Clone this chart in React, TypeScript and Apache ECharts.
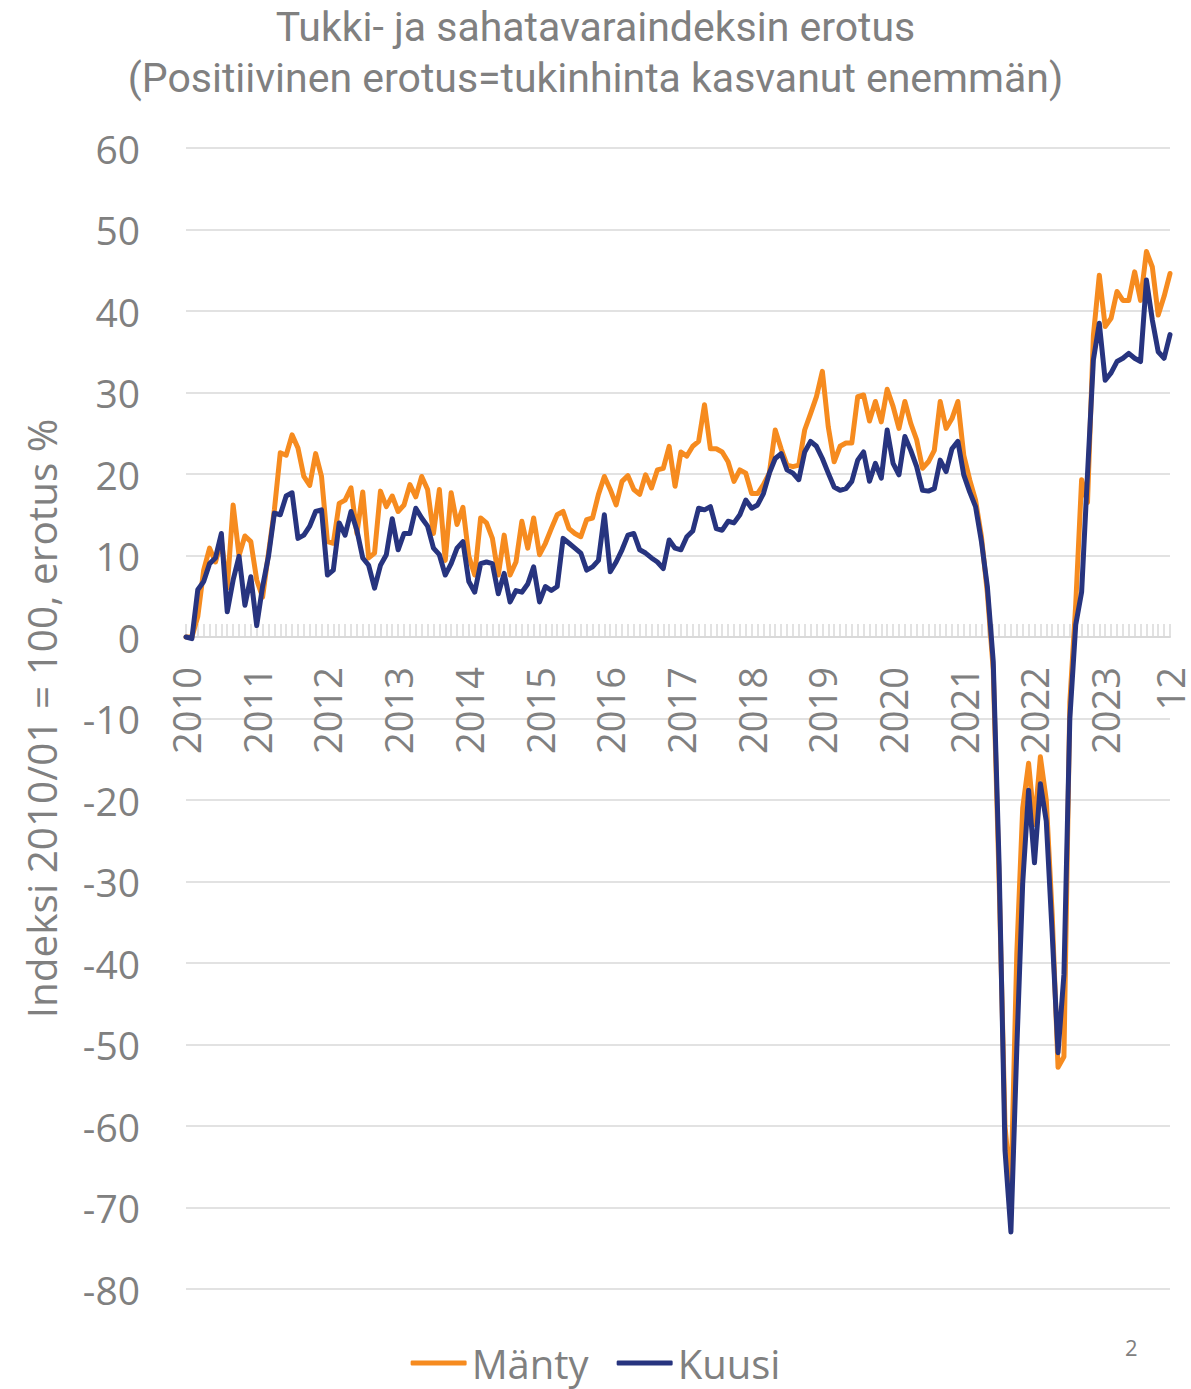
import React, { useEffect, useRef } from "react";
import * as echarts from "echarts";

const years = ["2010", "2011", "2012", "2013", "2014", "2015", "2016", "2017", "2018", "2019", "2020", "2021", "2022", "2023"];
const lastLabel = "12";

const manty = [
  0, 0, 2.5, 8.2, 10.9, 9.2, 11.9, 6, 16.2, 10.0, 12.4, 11.7,
  7, 4.9, 10.3, 15.6, 22.6, 22.3, 24.8, 23.2, 19.7, 18.6, 22.5, 19.7,
  11.7, 11.5, 16.4, 16.8, 18.3, 12.7, 17.8, 9.7, 10.3, 17.9, 16.0, 17.3,
  15.4, 16.2, 18.7, 17.2, 19.7, 18.1, 12.7, 18.1, 9.4, 17.7, 13.8, 15.9,
  9.9, 7.6, 14.6, 14.0, 12.1, 7.6, 12.5, 7.6, 9.2, 14.2, 10.9, 14.6,
  10.1, 11.5, 13.3, 15.0, 15.4, 13.3, 12.7, 12.3, 14.4, 14.6, 17.5, 19.7,
  18.1, 16.2, 19.1, 19.8, 18.1, 17.5, 19.9, 18.3, 20.5, 20.7, 23.4, 18.5,
  22.7, 22.2, 23.4, 24.0, 28.5, 23.1, 23.1, 22.7, 21.5, 19.1, 20.5, 20.1,
  17.6, 17.6, 18.7, 20.1, 25.4, 23.1, 21.1, 20.9, 21.1, 25.4, 27.4, 29.5,
  32.6, 25.8, 21.5, 23.4, 23.8, 23.8, 29.5, 29.7, 26.5, 28.9, 26.4, 30.4,
  28.3, 25.6, 28.9, 26.2, 24.2, 20.7, 21.5, 22.9, 28.9, 25.6, 26.8, 28.9,
  22.3, 19.3, 16.8, 12.3, 5.4, -4, -30, -60, -68, -38.8, -21, -15.5,
  -23, -14.7, -20, -34, -52.8, -51.5, -8, 4, 19.3, 16.5, 37, 44.4,
  38.1, 39.1, 42.4, 41.3, 41.3, 44.8, 41.3, 47.3, 45.4, 39.5, 41.8, 44.6,
];

const kuusi = [
  0, -0.2, 5.8, 6.8, 9.0, 9.7, 12.7, 3.1, 7.0, 9.9, 3.9, 7.4,
  1.4, 6.2, 9.9, 15.2, 15.0, 17.3, 17.7, 12.1, 12.5, 13.6, 15.4, 15.6,
  7.6, 8.2, 14.0, 12.5, 15.4, 13.1, 9.7, 8.8, 6.0, 8.8, 10.1, 14.5,
  10.7, 12.7, 12.7, 15.8, 14.6, 13.6, 10.9, 10.1, 7.6, 9.0, 10.9, 11.7,
  6.8, 5.5, 9.0, 9.2, 9.0, 5.3, 7.8, 4.3, 5.7, 5.5, 6.5, 8.6,
  4.3, 6.2, 5.7, 6.2, 12.1, 11.5, 10.9, 10.3, 8.2, 8.6, 9.4, 15.0,
  8.0, 9.2, 10.7, 12.5, 12.7, 10.7, 10.3, 9.7, 9.2, 8.4, 11.9, 10.9,
  10.7, 12.3, 13.0, 15.8, 15.6, 16.0, 13.3, 13.1, 14.2, 14.0, 15.0, 16.8,
  15.8, 16.2, 17.6, 20.1, 21.9, 22.5, 20.5, 20.1, 19.3, 22.7, 24.0, 23.4,
  21.9, 20.1, 18.4, 18.0, 18.2, 19.1, 21.7, 22.7, 19.1, 21.3, 19.5, 25.4,
  21.3, 19.9, 24.6, 22.9, 20.9, 18.0, 17.9, 18.2, 21.7, 20.3, 23.1, 24.0,
  19.9, 17.8, 16.0, 11.7, 6.2, -3, -28, -63, -73, -50.5, -30.2, -18.8,
  -27.7, -18, -22.6, -36.3, -51, -41.4, -10, 1.5, 5.5, 20, 34, 38.5,
  31.5, 32.4, 33.8, 34.2, 34.8, 34.2, 33.8, 43.8, 38.9, 35.0, 34.2, 37.1,
];

const grey = "#808080";
const font = "Open Sans";

export default function App() {
  const ref = useRef<HTMLDivElement>(null);
  useEffect(() => {
    document.body.style.margin = "0";
    const chart = echarts.init(ref.current!, null, { renderer: "svg" });
    const n = manty.length;
    const categories = manty.map(
      (_, i) => `${years[Math.floor(i / 12)]}/${String((i % 12) + 1).padStart(2, "0")}`
    );
    const gridTop = 148;
    const gridBottom = 100;
    const yMin = -80;
    const yMax = 60;
    const plotH = 1389 - gridTop - gridBottom;
    const zeroOffset = -(plotH * (0 - yMin)) / (yMax - yMin);
    chart.setOption({
      animation: false,
      backgroundColor: "#ffffff",
      title: {
        text: "Tukki- ja sahatavaraindeksin erotus\n(Positiivinen erotus=tukinhinta kasvanut enemmän)",
        left: "center",
        top: -4,
        textStyle: { fontFamily: "Roboto", fontSize: 41, fontWeight: "normal", color: grey, lineHeight: 51 },
      },
      legend: {
        bottom: 1,
        left: "center",
        itemWidth: 56,
        itemHeight: 5,
        itemGap: 28,
        icon: "roundRect",
        textStyle: { fontFamily: font, fontSize: 40, color: grey },
        data: ["Mänty", "Kuusi"],
      },
      grid: { left: 186, right: 21, top: gridTop, bottom: gridBottom, containLabel: false, outerBoundsMode: "none" },
      xAxis: {
        type: "category",
        data: categories,
        boundaryGap: false,
        offset: zeroOffset,
        axisLine: { onZero: false, lineStyle: { color: "#d9d9d9", width: 2 } },
        axisTick: { show: true, interval: 0, inside: true, length: 13, lineStyle: { color: "#d9d9d9", width: 1.5 } },
        axisLabel: {
          rotate: 90,
          interval: (i: number) => i % 12 === 0 || i === n - 1,
          formatter: (_v: string, i: number) => (i % 12 === 0 ? years[i / 12] : i === n - 1 ? lastLabel : ""),
          fontFamily: font,
          fontSize: 38,
          lineHeight: 36,
          color: grey,
          margin: 30,
        },
        splitLine: { show: false },
      },
      yAxis: {
        type: "value",
        min: yMin,
        max: yMax,
        interval: 10,
        name: "Indeksi 2010/01 = 100, erotus %",
        nameLocation: "middle",
        nameGap: 124,
        nameTextStyle: { fontFamily: font, fontSize: 40.5, color: grey },
        axisLine: { show: false },
        axisTick: { show: false },
        axisLabel: { fontFamily: font, fontSize: 39, color: grey, margin: 46 },
        splitLine: { lineStyle: { color: "#d9d9d9", width: 1.5 } },
      },
      graphic: [
        { type: "text", left: 1125, top: 1336, style: { text: "2", fontFamily: font, fontSize: 22, fill: grey } },
      ],
      series: [
        {
          name: "Mänty",
          type: "line",
          data: manty,
          symbol: "none",
          color: "#F68B1F",
          lineStyle: { width: 5, color: "#F68B1F", join: "round", cap: "round" },
        },
        {
          name: "Kuusi",
          type: "line",
          data: kuusi,
          symbol: "none",
          color: "#27347F",
          lineStyle: { width: 5, color: "#27347F", join: "round", cap: "round" },
        },
      ],
    });
    return () => chart.dispose();
  }, []);
  return (
    <div
      ref={ref}
      style={{ position: "absolute", left: 0, top: 0, width: 1191, height: 1389, background: "#fff" }}
    />
  );
}
